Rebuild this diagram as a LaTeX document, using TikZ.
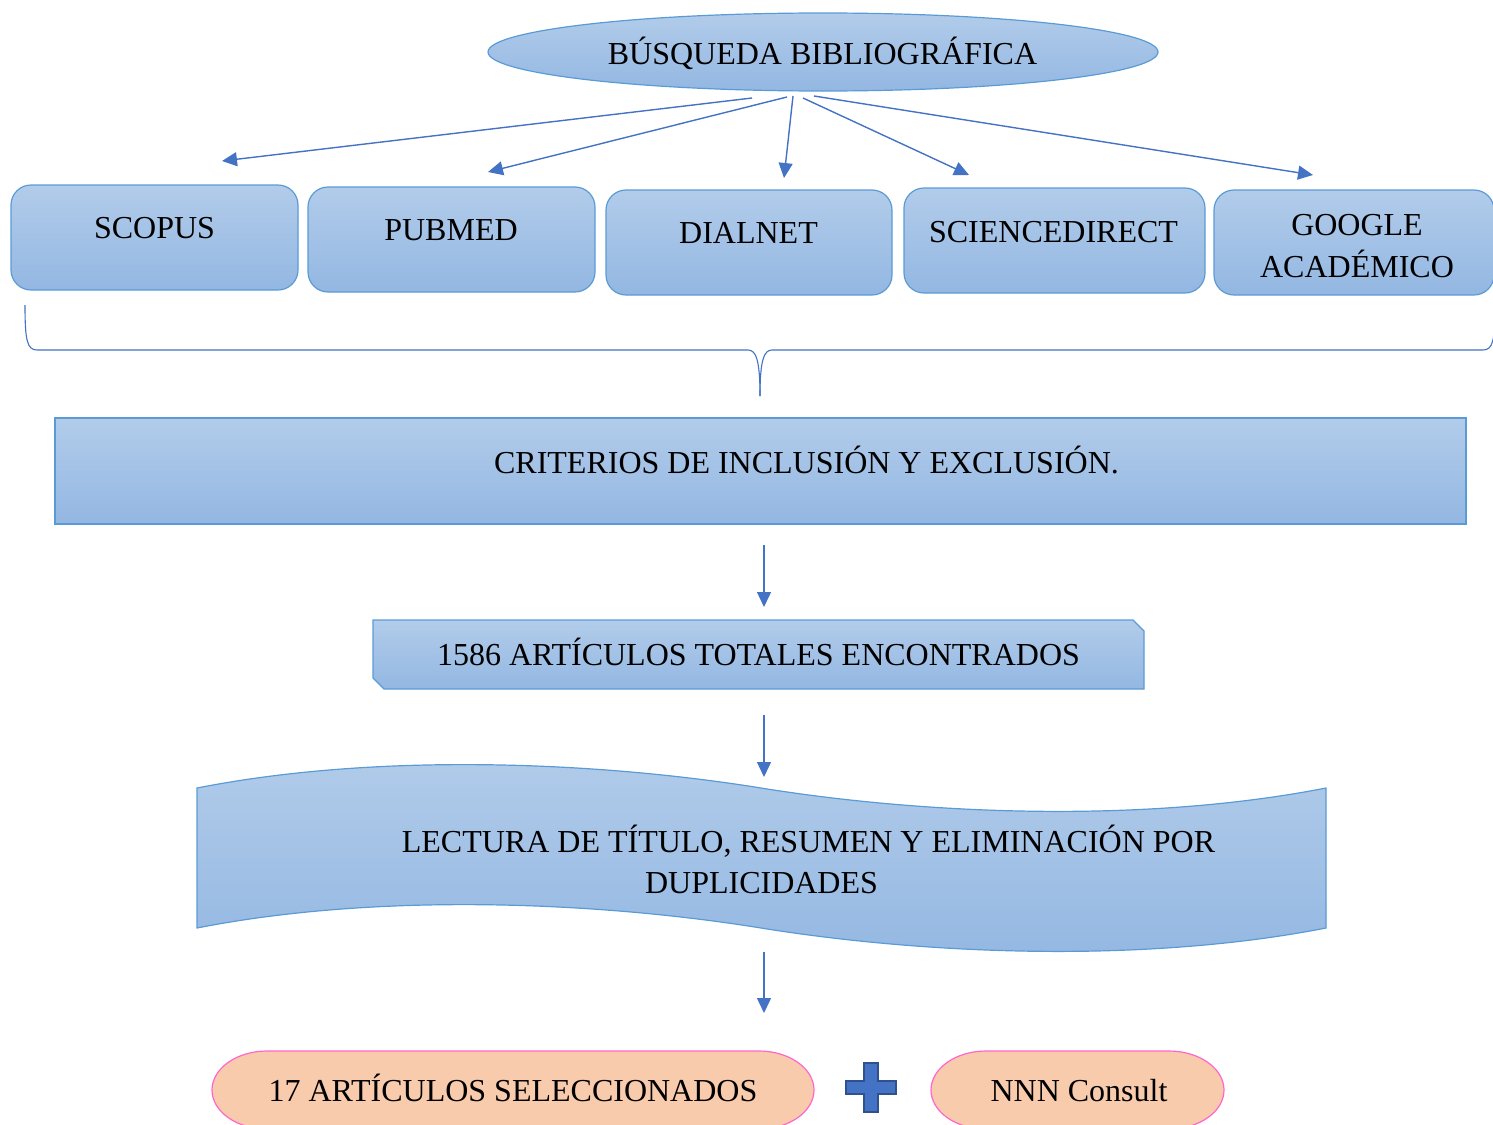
\documentclass[tikz,border=0pt]{standalone}
\usepackage{fontspec}
\setmainfont{Liberation Serif}
\usetikzlibrary{arrows.meta}
\definecolor{boxtop}{HTML}{B2CCEA}
\definecolor{boxbot}{HTML}{93B7E2}
\definecolor{boxline}{HTML}{5B9BD5}
\definecolor{arrowc}{HTML}{4472C4}
\definecolor{pillfill}{HTML}{F8CBAD}
\definecolor{pillline}{HTML}{FF66CC}
\definecolor{plusline}{HTML}{2F528F}
\tikzset{
  shapebox/.style={draw=boxline, line width=0.6pt, top color=boxtop, bottom color=boxbot},
  roundbox/.style={shapebox, rounded corners=10pt},
  lbl/.style={anchor=base, inner sep=0pt, font=\fontsize{16}{19}\selectfont},
  conn/.style={draw=arrowc, line width=0.7pt, -{Triangle[length=7.5pt,width=7pt]}},
  bracel/.style={draw=arrowc, line width=0.55pt},
  pill/.style={draw=pillline, line width=0.6pt, fill=pillfill},
  plus/.style={fill=arrowc, draw=plusline, line width=0.9pt},
}
\begin{document}
\begin{tikzpicture}[x=0.5pt,y=-0.5pt]
\clip (0,0) rectangle (1493,1124);
% top ellipse
\path[shapebox] (823,52) ellipse [x radius=335, y radius=39];
\node[lbl] (busq) at (822.5,64) {BÚSQUEDA BIBLIOGRÁFICA};
% database boxes
\path[roundbox] (11,185) rectangle (298,290);
\path[roundbox] (308,187) rectangle (595,292);
\path[roundbox] (606,190) rectangle (892,295);
\path[roundbox] (904,188) rectangle (1205,293);
\path[roundbox] (1214,190) rectangle (1494,295);
\node[lbl] (scopus) at (154.5,238) {SCOPUS};
\node[lbl] (pubmed) at (451,240.5) {PUBMED};
\node[lbl] (dialnet) at (748.5,243) {DIALNET};
\node[lbl] (sciencedirect) at (1053.5,242) {SCIENCEDIRECT};
\node[lbl] (google) at (1357,235) {GOOGLE};
\node[lbl] (academico) at (1357,277) {ACADÉMICO};
% arrows from the ellipse
\coordinate (s1) at (752,98);  \coordinate (e1) at (222,161);
\coordinate (s2) at (787,97);  \coordinate (e2) at (488,172);
\coordinate (s3) at (793,96);  \coordinate (e3) at (784,178);
\coordinate (s4) at (803,98);  \coordinate (e4) at (969,175);
\coordinate (s5) at (814,96);  \coordinate (e5) at (1313,175);
\draw[conn] (s1) -- (e1);
\draw[conn] (s2) -- (e2);
\draw[conn] (s3) -- (e3);
\draw[conn] (s4) -- (e4);
\draw[conn] (s5) -- (e5);
% brace
\draw[bracel] (25,305) .. controls (25,340) and (27,350) .. (37,350) -- (748,350)
  .. controls (756,350) and (760,360) .. (760,396);
\draw[bracel] (1495,305) .. controls (1495,340) and (1493,350) .. (1483,350) -- (772,350)
  .. controls (764,350) and (760,360) .. (760,396);
% criteria
\path[shapebox] (55,418) rectangle (1466,524);
\node[lbl] (crit) at (806.5,473) {CRITERIOS DE INCLUSIÓN Y EXCLUSIÓN.};
\coordinate (a1s) at (764,545); \coordinate (a1e) at (764,607);
\draw[conn] (a1s) -- (a1e);
% total found
\path[shapebox] (373,620) -- (1133,620) -- (1144,631) -- (1144,689) -- (384,689) -- (373,678) -- cycle;
\node[lbl] (total) at (758.5,665) {1586 ARTÍCULOS TOTALES ENCONTRADOS};
\coordinate (a2s) at (764,715); \coordinate (a2e) at (764,777);
\draw[conn] (a2s) -- (a2e);
% wave
\path[shapebox] (197,788) .. controls (380,752) and (600,762) .. (761,788)
  .. controls (922,814) and (1142,824) .. (1326,788) -- (1326,928)
  .. controls (1142,964) and (922,954) .. (761,928)
  .. controls (600,902) and (380,892) .. (197,928) -- cycle;
\node[lbl] (lect1) at (808.5,852) {LECTURA DE TÍTULO, RESUMEN Y ELIMINACIÓN POR};
\node[lbl] (lect2) at (761.5,893) {DUPLICIDADES};
\coordinate (a3s) at (764,952); \coordinate (a3e) at (764,1013);
\draw[conn] (a3s) -- (a3e);
% bottom pills
\path[pill] (267,1051) -- (759,1051) .. controls (789.4,1051) and (814,1068.5) .. (814,1090)
  .. controls (814,1111.5) and (789.4,1129) .. (759,1129) -- (267,1129)
  .. controls (236.6,1129) and (212,1111.5) .. (212,1090)
  .. controls (212,1068.5) and (236.6,1051) .. (267,1051) -- cycle;
\node[lbl] (sel) at (513,1101) {17 ARTÍCULOS SELECCIONADOS};
\path[plus] (864,1063) -- (878,1063) -- (878,1081) -- (896,1081) -- (896,1094) -- (878,1094)
  -- (878,1112) -- (864,1112) -- (864,1094) -- (846,1094) -- (846,1081) -- (864,1081) -- cycle;
\path[pill] (986,1051) -- (1169,1051) .. controls (1199.4,1051) and (1224,1068.5) .. (1224,1090)
  .. controls (1224,1111.5) and (1199.4,1129) .. (1169,1129) -- (986,1129)
  .. controls (955.6,1129) and (931,1111.5) .. (931,1090)
  .. controls (931,1068.5) and (955.6,1051) .. (986,1051) -- cycle;
\node[lbl] (nnn) at (1079,1101) {NNN Consult};
\end{tikzpicture}
\end{document}
